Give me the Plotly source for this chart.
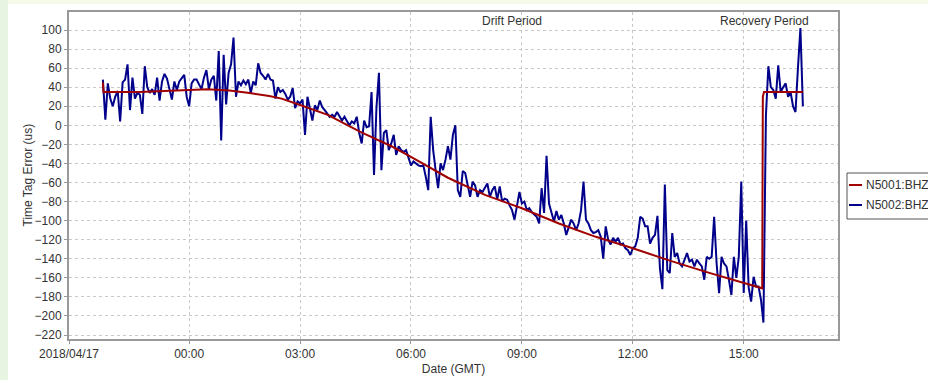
import pandas as pd
import plotly.graph_objects as go

# ---------------- data ----------------
red_name = "N5001:BHZ"
blue_name = "N5002:BHZ"

red_times = ["2018-04-16 21:40", "2018-04-16 21:41", "2018-04-16 22:40", "2018-04-16 23:35",
             "2018-04-17 00:30", "2018-04-17 01:05", "2018-04-17 01:35", "2018-04-17 02:10",
             "2018-04-17 02:30", "2018-04-17 03:00", "2018-04-17 03:45", "2018-04-17 04:37",
             "2018-04-17 05:30", "2018-04-17 06:00", "2018-04-17 07:00", "2018-04-17 08:00",
             "2018-04-17 09:00", "2018-04-17 10:00", "2018-04-17 11:00", "2018-04-17 12:00",
             "2018-04-17 13:00", "2018-04-17 14:00", "2018-04-17 15:00", "2018-04-17 15:30",
             "2018-04-17 15:31", "2018-04-17 15:33", "2018-04-17 16:36"]
red_values = [45, 35, 35, 36.3, 37.8, 36.5, 34.2, 30.7, 28, 21.3, 11, -6.7, -22.5, -33,
              -55, -73, -87, -103, -117, -129, -142, -154, -165, -171, 30, 35, 35]

blue_start = "2018-04-16 21:40"
blue_step = "4min"
blue_values = [
    48, 6, 44, 28, 20, 30, 36, 4, 45, 48, 64, 16, 50, 28, 34, 32, 12, 62, 40, 34,
    38, 32, 50, 26, 46, 54, 49, 38, 27, 46, 37, 46, 49, 53, 30, 20, 44, 48, 48, 42,
    38, 50, 58, 38, 48, 52, 26, 78, -16, 74, 22, 55, 64, 92, 30, 46, 42, 47, 43, 48,
    34, 46, 42, 65, 55, 52, 48, 54, 48, 47, 28, 40, 35, 37, 33, 27, 30, 39, 18, 25,
    23, 27, -10, 30, 18, 5, 21, 16, 26, 19, 16, 12, 9, 11, 9, 14, 9, 5, 9, 4,
    0, 4, 2, 9, -8, -19, 5, -2, -1, 35, -52, 19, 55, -47, -8, -5, -26, -19, -10, -31,
    -22, -26, -28, -26, -33, -42, -38, -40, -42, -43, -42, -54, -68, 9, -26, -47, -66, -40, -47, -36,
    -22, -36, -10, 0, -68, -75, -48, -50, -62, -75, -59, -63, -75, -68, -70, -66, -61, -75, -68, -64,
    -78, -64, -80, -77, -78, -84, -89, -99, -82, -70, -82, -80, -89, -87, -91, -94, -96, -103, -66, -92,
    -32, -82, -92, -101, -90, -99, -94, -103, -115, -106, -99, -103, -110, -103, -89, -59, -99, -103, -110, -113,
    -112, -110, -117, -140, -106, -120, -125, -118, -122, -118, -125, -124, -129, -131, -136, -129, -127, -118, -96, -98,
    -106, -106, -124, -118, -115, -95, -150, -172, -62, -152, -155, -113, -138, -134, -145, -148, -141, -134, -143, -141,
    -148, -141, -145, -148, -162, -138, -140, -138, -96, -145, -176, -138, -145, -148, -162, -178, -138, -160, -138, -59,
    -176, -100, -170, -185, -159, -169, -169, -183, -207, 10, 62, 40, 37, 28, 63, 35, 40, 44, 30, 35,
    20, 14, 60, 102, 20,
]

x_range = ["2018-04-16 20:45", "2018-04-17 17:33"]
x_tickvals = ["2018-04-16 20:45", "2018-04-17 00:00", "2018-04-17 03:00", "2018-04-17 06:00",
              "2018-04-17 09:00", "2018-04-17 12:00", "2018-04-17 15:00"]
x_ticktext = ["2018/04/17", "00:00", "03:00", "06:00", "09:00", "12:00", "15:00"]
y_tickvals = list(range(-220, 101, 20))
y_range = [-224.2, 118.9]

period_labels = ["Drift Period", "Recovery Period"]

# ---------------- figure ----------------
RED = "#a00000"
BLUE = "#00008b"
FONT = "Liberation Sans, Arial, sans-serif"
TXT = "#333333"

blue_times = pd.date_range(blue_start, periods=len(blue_values), freq=blue_step)

fig = go.Figure()
fig.add_trace(go.Scatter(x=blue_times, y=blue_values, mode="lines", name=blue_name,
                         line=dict(color=BLUE, width=2), showlegend=False))
fig.add_trace(go.Scatter(x=pd.to_datetime(red_times), y=red_values, mode="lines", name=red_name,
                         line=dict(color=RED, width=2), showlegend=False))

W, H = 928, 380
L, R, T, B = 69, 838, 12, 339
pw, ph = R - L, B - T


def px(x):
    return (x - L) / pw


def py(y):
    return (B - y) / ph


shapes = [
    dict(type="rect", xref="paper", yref="paper", x0=px(0), x1=px(8), y0=py(H), y1=py(0),
         fillcolor="#e7f4e1", line_width=0, layer="below"),
    dict(type="rect", xref="paper", yref="paper", x0=px(8), x1=px(W), y0=py(4), y1=py(0),
         fillcolor="#f5f9e8", line_width=0, layer="below"),
    # legend box
    dict(type="rect", xref="paper", yref="paper", x0=px(847), x1=px(940), y0=py(219), y1=py(173),
         fillcolor="white", line=dict(color="#555555", width=1)),
    dict(type="line", xref="paper", yref="paper", x0=px(849), x1=px(862), y0=py(185), y1=py(185),
         line=dict(color=RED, width=2)),
    dict(type="line", xref="paper", yref="paper", x0=px(849), x1=px(862), y0=py(205), y1=py(205),
         line=dict(color=BLUE, width=2)),
]

annotations = [
    dict(xref="paper", yref="paper", x=px(512), y=py(21), text=period_labels[0], showarrow=False,
         xanchor="center", yanchor="middle", font=dict(size=12, color=TXT, family=FONT)),
    dict(xref="paper", yref="paper", x=px(764), y=py(21), text=period_labels[1], showarrow=False,
         xanchor="center", yanchor="middle", font=dict(size=12, color=TXT, family=FONT)),
    dict(xref="paper", yref="paper", x=px(864), y=py(185), text=red_name, showarrow=False,
         xanchor="left", yanchor="middle", font=dict(size=12, color=TXT, family=FONT)),
    dict(xref="paper", yref="paper", x=px(864), y=py(205), text=blue_name, showarrow=False,
         xanchor="left", yanchor="middle", font=dict(size=12, color=TXT, family=FONT)),
    dict(xref="paper", yref="paper", x=px(27), y=0.5, text="Time Tag Error (us)", showarrow=False,
         textangle=-90, xanchor="center", yanchor="middle", font=dict(size=12, color=TXT, family=FONT)),
]

fig.update_layout(
    width=W, height=H,
    margin=dict(l=L, r=W - R, t=T, b=H - B, autoexpand=False),
    paper_bgcolor="white", plot_bgcolor="white",
    font=dict(family=FONT, size=12, color=TXT),
    shapes=shapes, annotations=annotations, showlegend=False,
)
fig.update_xaxes(
    type="date", range=x_range, tickmode="array", tickvals=x_tickvals, ticktext=x_ticktext,
    showgrid=True, gridcolor="#c8c8c8", griddash="dot", gridwidth=1,
    showline=True, linecolor="#999999", linewidth=2, mirror=True,
    ticks="outside", ticklen=3, tickcolor="#999999", zeroline=False,
    tickfont=dict(size=12, color=TXT),
    title=dict(text="Date (GMT)", font=dict(size=12, color=TXT), standoff=4),
)
fig.update_yaxes(
    range=y_range, tickmode="array", tickvals=y_tickvals,
    showgrid=True, gridcolor="#c8c8c8", griddash="dot", gridwidth=1,
    showline=True, linecolor="#999999", linewidth=2, mirror=True,
    ticks="outside", ticklen=3, tickcolor="#999999", zeroline=False,
    tickfont=dict(size=12, color=TXT),
)

fig.write_html("out.html")
